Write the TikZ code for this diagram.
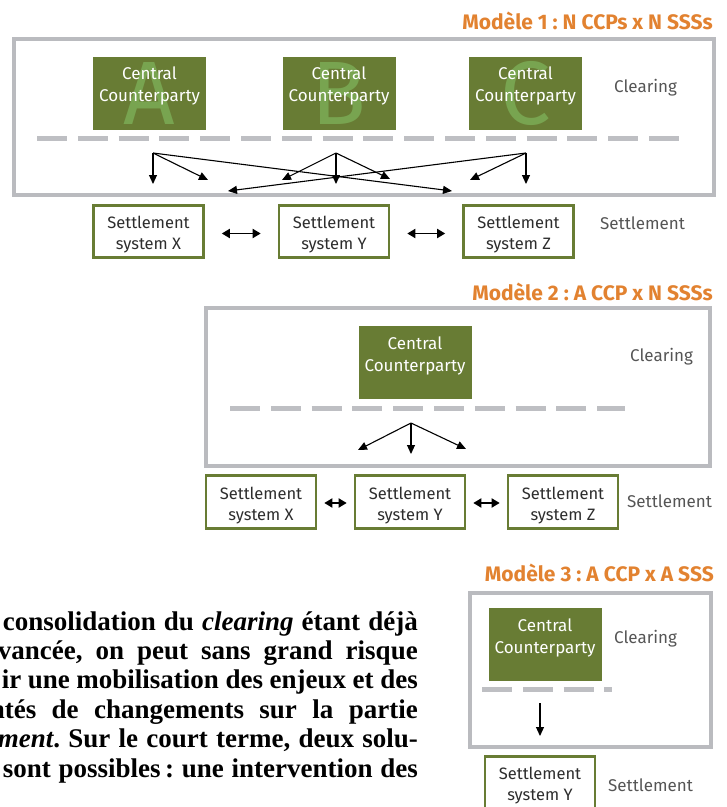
\documentclass[tikz,border=0pt]{standalone}
\usepackage{fontspec}
\usetikzlibrary{arrows.meta}
\newfontfamily\dinf{Fira Sans}
\newfontfamily\bodyf{Liberation Serif}
\definecolor{ccpgreen}{RGB}{104,124,52}
\definecolor{lettergreen}{RGB}{120,164,80}
\definecolor{framegrey}{RGB}{186,187,191}
\definecolor{dashgrey}{RGB}{190,191,195}
\definecolor{titleorange}{RGB}{226,130,48}
\definecolor{labelgrey}{RGB}{85,85,85}
\definecolor{textdark}{RGB}{45,45,45}
\frenchspacing
\begin{document}
\begin{tikzpicture}[x=1pt,y=-1pt,
  frame/.style={draw=framegrey, line width=4pt, inner sep=0pt},
  ccp/.style={fill=ccpgreen, minimum width=113pt, minimum height=73pt, inner sep=0pt},
  ccptext/.style={text=white, font=\dinf\fontsize{17}{22}\selectfont, align=center, inner sep=0pt},
  bigletter/.style={text=lettergreen, font=\dinf\fontsize{90}{90}\selectfont, inner sep=0pt, anchor=base},
  sss/.style={draw=ccpgreen, line width=2.6pt, fill=white, minimum width=110pt, minimum height=52.5pt, inner sep=0pt},
  sstext/.style={text=textdark, font=\dinf\fontsize{16.5}{21}\selectfont, align=center, inner sep=0pt},
  dashline/.style={draw=dashgrey, line width=5pt, dash pattern=on 30pt off 10.8pt},
  arr/.style={-{Triangle[length=9pt,width=8pt]}, line width=1.1pt},
  dbl/.style={{Triangle[length=8pt,width=9pt]}-{Triangle[length=8pt,width=9pt]}, line width=1.8pt},
  lbl/.style={text=labelgrey, font=\dinf\fontsize{17}{20}\selectfont, inner sep=0pt},
  title/.style={text=titleorange, font=\dinf\bfseries\fontsize{21}{24}\selectfont, anchor=east, inner sep=0pt},
  bodyline/.style={anchor=base east, inner sep=0pt, font=\bodyf\bfseries\fontsize{27}{29}\selectfont, text=black}
]
\useasboundingbox (0,0) rectangle (727,807);
\clip (0,0) rectangle (727,807);

% ---------------- Model 1 ----------------
\node[title] (t1) at (713,21) {Modèle 1 : N CCPs x N SSSs};
\node[frame, minimum width=700pt, minimum height=156pt] (f1) at (364,117) {};

\node[ccp] (ccpA) at (149.5,93) {};
\node[ccp] (ccpB) at (339,93) {};
\node[ccp] (ccpC) at (525.5,93) {};
\node[bigletter] (LA) at ([yshift=5pt]ccpA.south) {A};
\node[bigletter] (LB) at ([yshift=5pt]ccpB.south) {B};
\node[bigletter] (LC) at ([yshift=5pt]ccpC.south) {C};
\node[ccptext] (tA) at ([yshift=7pt]ccpA.center) {Central\\Counterparty};
\node[ccptext] (tB) at ([yshift=7pt]ccpB.center) {Central\\Counterparty};
\node[ccptext] (tC) at ([yshift=7pt]ccpC.center) {Central\\Counterparty};
\node[lbl, anchor=west] (clr1) at (614,88) {Clearing};

\coordinate (d1a) at (37,138);
\coordinate (d1b) at (680,138);
\draw[dashline] (d1a) -- (d1b);

\coordinate (sA) at (153,153);
\coordinate (sB) at (336,153);
\coordinate (sC) at (526,153);
\coordinate (eA1) at (153,184);
\coordinate (eA2) at (208,180);
\coordinate (eA3) at (452,191);
\coordinate (eB1) at (282,180);
\coordinate (eB2) at (336,184);
\coordinate (eB3) at (390,179);
\coordinate (eC1) at (228,191);
\coordinate (eC2) at (470,180);
\coordinate (eC3) at (526,184);
\draw[arr] (sA) -- (eA1);
\draw[arr] (sA) -- (eA2);
\draw[arr] (sA) -- (eA3);
\draw[arr] (sB) -- (eB1);
\draw[arr] (sB) -- (eB2);
\draw[arr] (sB) -- (eB3);
\draw[arr] (sC) -- (eC1);
\draw[arr] (sC) -- (eC2);
\draw[arr] (sC) -- (eC3);

\node[sss] (sx1) at (148.5,231.5) {};
\node[sss] (sy1) at (334,231.5) {};
\node[sss] (sz1) at (518.5,231.5) {};
\node[sstext] (sx1t) at ([yshift=-3.5pt]sx1.center) {Settlement\\system X};
\node[sstext] (sy1t) at ([yshift=-3.5pt]sy1.center) {Settlement\\system Y};
\node[sstext] (sz1t) at ([yshift=-3.5pt]sz1.center) {Settlement\\system Z};
\draw[dbl] ([xshift=17pt,yshift=-2pt]sx1.east) -- ([xshift=-17pt,yshift=-2pt]sy1.west);
\draw[dbl] ([xshift=17pt,yshift=-2pt]sy1.east) -- ([xshift=-17pt,yshift=-2pt]sz1.west);
\node[lbl, anchor=west] (set1) at (600,223) {Settlement};

% ---------------- Model 2 ----------------
\node[title] (t2) at (713,292) {Modèle 2 : A CCP x N SSSs};
\node[frame, minimum width=504pt, minimum height=158pt] (f2) at (458,387) {};
\node[ccp] (ccp2) at (415,362.5) {};
\node[ccptext] (t2c) at ([yshift=7pt]ccp2.center) {Central\\Counterparty};
\node[lbl, anchor=west] (clr2) at (630,357) {Clearing};
\coordinate (d2a) at (230,408);
\coordinate (d2b) at (625,408);
\draw[dashline] (d2a) -- (d2b);
\coordinate (s2) at (411,423);
\coordinate (e21) at (358,450);
\coordinate (e22) at (411,454);
\coordinate (e23) at (466,449);
\draw[arr] (s2) -- (e21);
\draw[arr] (s2) -- (e22);
\draw[arr] (s2) -- (e23);
\node[sss] (sx2) at (261,502) {};
\node[sss] (sy2) at (410,502) {};
\node[sss] (sz2) at (563,502) {};
\node[sstext] (sx2t) at ([yshift=-3.5pt]sx2.center) {Settlement\\system X};
\node[sstext] (sy2t) at ([yshift=-3.5pt]sy2.center) {Settlement\\system Y};
\node[sstext] (sz2t) at ([yshift=-3.5pt]sz2.center) {Settlement\\system Z};
\draw[dbl] ([xshift=7pt,yshift=-1pt]sx2.east) -- ([xshift=-7pt,yshift=-1pt]sy2.west);
\draw[dbl] ([xshift=7pt,yshift=-1pt]sy2.east) -- ([xshift=-7pt,yshift=-1pt]sz2.west);
\node[lbl, anchor=west] (set2) at (627,501) {Settlement};

% ---------------- Model 3 ----------------
\node[title] (t3) at (714,573) {Modèle 3 : A CCP x A SSS};
\node[frame, minimum width=241pt, minimum height=154pt] (f3) at (590,669.5) {};
\node[ccp] (ccp3) at (545,644.5) {};
\node[ccptext] (t3c) at ([yshift=7pt]ccp3.center) {Central\\Counterparty};
\node[lbl, anchor=west] (clr3) at (614,639) {Clearing};
\coordinate (d3a) at (482,689);
\coordinate (d3b) at (612,689);
\draw[dashline] (d3a) -- (d3b);
\coordinate (s3) at (540,703);
\coordinate (e3) at (540,736);
\draw[arr] (s3) -- (e3);
\node[sss] (sy3) at (540,782.5) {};
\node[sstext] (sy3t) at ([yshift=-3.5pt]sy3.center) {Settlement\\system Y};
\node[lbl, anchor=west] (set3) at (608,785) {Settlement};

% ---------------- Body text ----------------
\node[bodyline] (b1) at (418,630) {\makebox[415pt][s]{consolidation du \textit{clearing} étant déjà}};
\node[bodyline] (b2) at (418,659.4) {\makebox[420pt][s]{vancée, on peut sans grand risque}};
\node[bodyline] (b3) at (418,688.8) {\makebox[416pt][s]{ir une mobilisation des enjeux et des}};
\node[bodyline] (b4) at (418,718.2) {\makebox[428pt][s]{ntés de changements sur la partie}};
\node[bodyline] (b5) at (418,747.6) {\makebox[420pt][s]{\textit{ment}. Sur le court terme, deux solu-}};
\node[bodyline] (b6) at (418,777) {\makebox[415pt][s]{sont possibles\,: une intervention des}};
\end{tikzpicture}
\end{document}
